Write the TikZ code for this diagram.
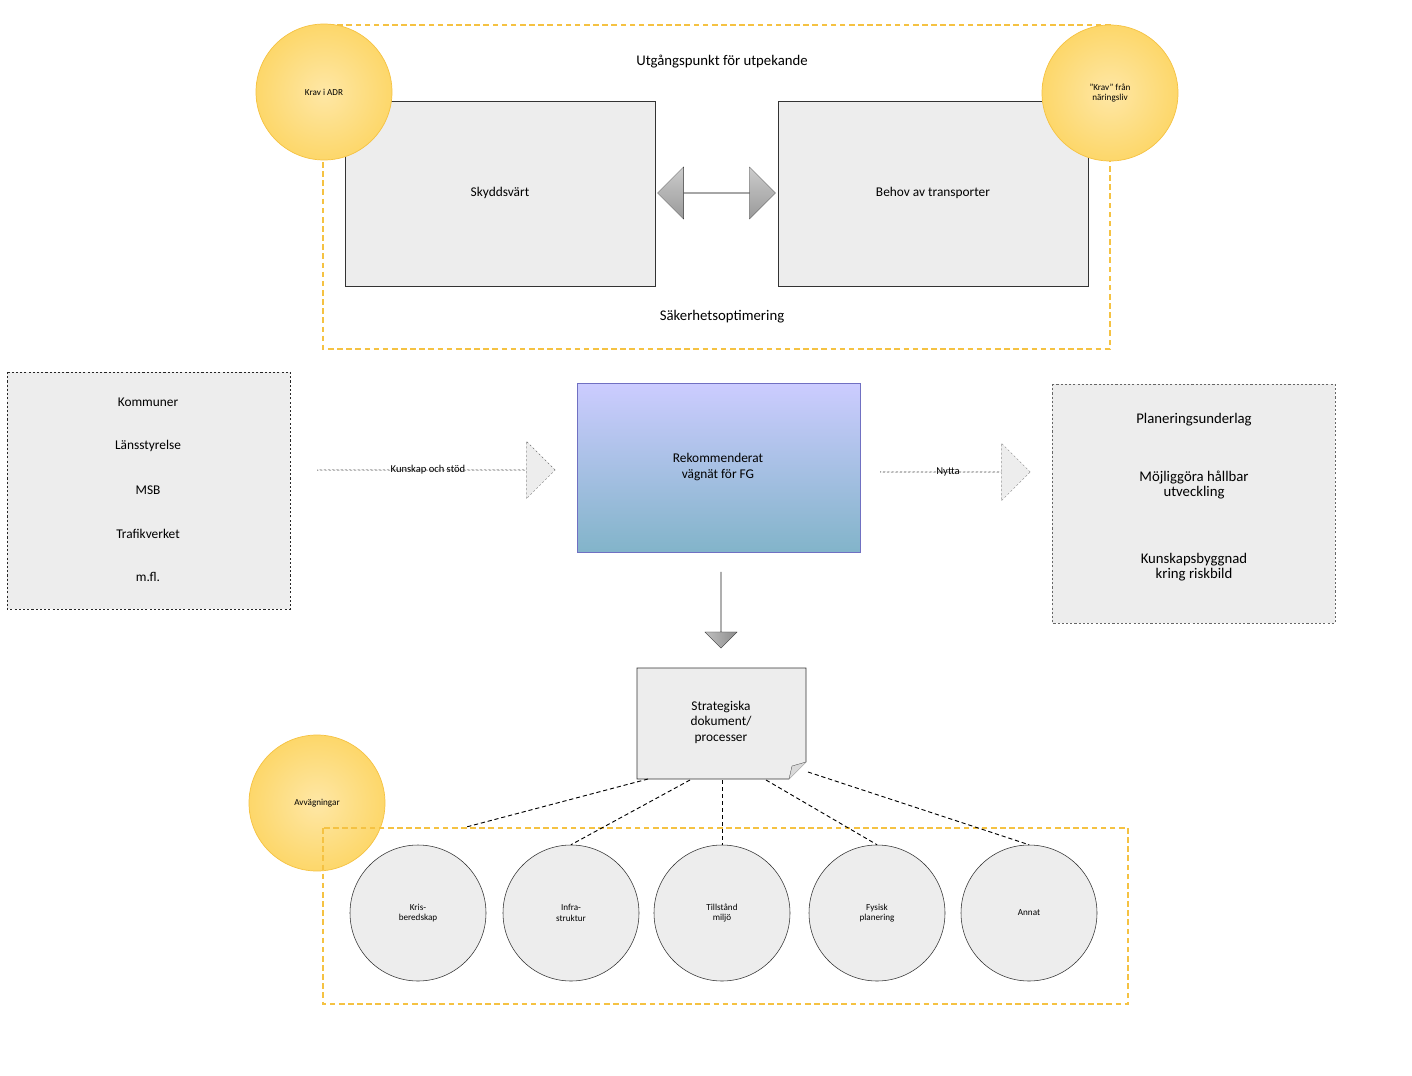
\documentclass[tikz,border=0pt]{standalone}
\usepackage{fontspec}
\setmainfont{Carlito}
\usetikzlibrary{shapes.arrows,shapes.misc}
\definecolor{ygold}{HTML}{F5C242}
\definecolor{yfill}{HTML}{FDD76A}
\definecolor{gfill}{HTML}{EDEDED}
\begin{document}
\begin{tikzpicture}[x=0.05cm,y=-0.05cm,
  ydash/.style={draw=ygold,dashed,line width=2.2pt,dash pattern=on 8pt off 5pt},
  gbox/.style={draw=black!80,fill=gfill,line width=0.8pt},
  ycirc/.style={circle,draw=ygold,line width=1pt,inner color=yfill!60,outer color=yfill,minimum size=6.8cm,align=center,font=\fontsize{13}{15}\selectfont},
  gcirc/.style={circle,draw=black!80,fill=gfill,line width=0.8pt,minimum size=6.8cm,align=center,font=\fontsize{13}{15}\selectfont},
  big/.style={font=\fontsize{21}{25}\selectfont,align=center},
  mid/.style={font=\fontsize{19}{25}\selectfont,align=center}]
\path[use as bounding box] (0,0) rectangle (1412,1076);
% top
\draw[ydash] (323,25) rectangle (1110,349);
\node[big] (title) at (722,62) {Utgångspunkt för utpekande};
\node[big] (opt) at (722,317) {Säkerhetsoptimering};
\draw[gbox] (345,101) rectangle (655,286);
\node[mid] (skydd) at (500,193) {Skyddsvärt};
\draw[gbox] (778,101) rectangle (1088,286);
\node[mid] (behov) at (933,193) {Behov av transporter};
\node[double arrow,draw=black!80,top color=gray!40,bottom color=gray!80,minimum width=1.45cm*1.8,double arrow head extend=0.35cm*1.8,minimum height=5.9cm,inner sep=0pt] (dbl) at (716.5,193) {};
\node[ycirc] (adr) at (324,92) {Krav i ADR};
\node[ycirc] (nar) at (1110,93) {”Krav” från\\näringsliv};
% middle
\draw[black!85,fill=gfill,line width=1pt,dashed] (7,372) rectangle (290,609);
\node[mid] (k1) at (148,402) {Kommuner};
\node[mid] (k2) at (148,446) {Länsstyrelse};
\node[mid] (k3) at (148,490) {MSB};
\node[mid] (k4) at (148,534) {Trafikverket};
\node[mid] (k5) at (148,577) {m.fl.};
\node[single arrow,draw=black!70,dashed,fill=gfill,minimum width=2.9cm,single arrow head extend=0.5cm,minimum height=11.9cm,inner sep=0pt] (ks) at (436,470) {};
\node[font=\fontsize{15}{18}\selectfont] at (428,470) {Kunskap och stöd};
\draw[draw=blue!40!gray!80,line width=0.8pt,top color=blue!20!white,bottom color=blue!30!cyan!40!gray!70] (577,383) rectangle (860,552);
\node[mid] (rek) at (718,467) {Rekommenderat\\[-2pt]vägnät för FG};
\node[single arrow,draw=black!70,dashed,fill=gfill,minimum width=2.9cm,single arrow head extend=0.5cm,minimum height=7.5cm,inner sep=0pt] (ny) at (955,472) {};
\node[font=\fontsize{15}{18}\selectfont] at (948,472) {Nytta};
\draw[black!60,fill=gfill,line width=0.8pt,dashed] (1052,384) rectangle (1335,623);
\node[big] (p1) at (1194,420) {Planeringsunderlag};
\node[big] (p2) at (1194,485) {Möjliggöra hållbar\\[-4pt]utveckling};
\node[big] (p3) at (1194,567) {Kunskapsbyggnad\\[-4pt]kring riskbild};
\node[single arrow,shape border rotate=270,draw=black!80,left color=gray!50,right color=gray!90,minimum width=1.6cm,single arrow head extend=0.8cm,minimum height=3.8cm,inner sep=0pt] (down) at (721,610) {};
% document
\draw[gbox] (637,668) -- (806,668) -- (806,762) -- (789,779) -- (637,779) -- cycle;
\draw[black!80,fill=gray!30] (789,779) -- (792,766) -- (806,762);
\node[mid] (doc) at (721,722) {Strategiska\\[-3pt]dokument/\\[-3pt]processer};
% bottom
\node[ycirc] (avv) at (317,803) {Avvägningar};
\draw[ydash] (323,828) rectangle (1128,1004);
\node[gcirc] (c1) at (418,913) {Kris-\\beredskap};
\node[gcirc] (c2) at (571,913) {Infra-\\struktur};
\node[gcirc] (c3) at (722,913) {Tillstånd\\miljö};
\node[gcirc] (c4) at (877,913) {Fysisk\\planering};
\node[gcirc] (c5) at (1029,913) {Annat};
\coordinate (d1) at (648,779); \coordinate (d2) at (690,780);
\coordinate (d3) at (722,780); \coordinate (d4) at (766,780);
\coordinate (d5) at (808,772);
\begin{scope}[dashed,line width=1.3pt,dash pattern=on 6pt off 4pt]
\draw (d1) -- (c1.north east|-0,827) ;
\draw (d2) -- (c2.north);
\draw (d3) -- (c3.north);
\draw (d4) -- (c4.north);
\draw (d5) -- (c5.north);
\end{scope}
\end{tikzpicture}
\end{document}
